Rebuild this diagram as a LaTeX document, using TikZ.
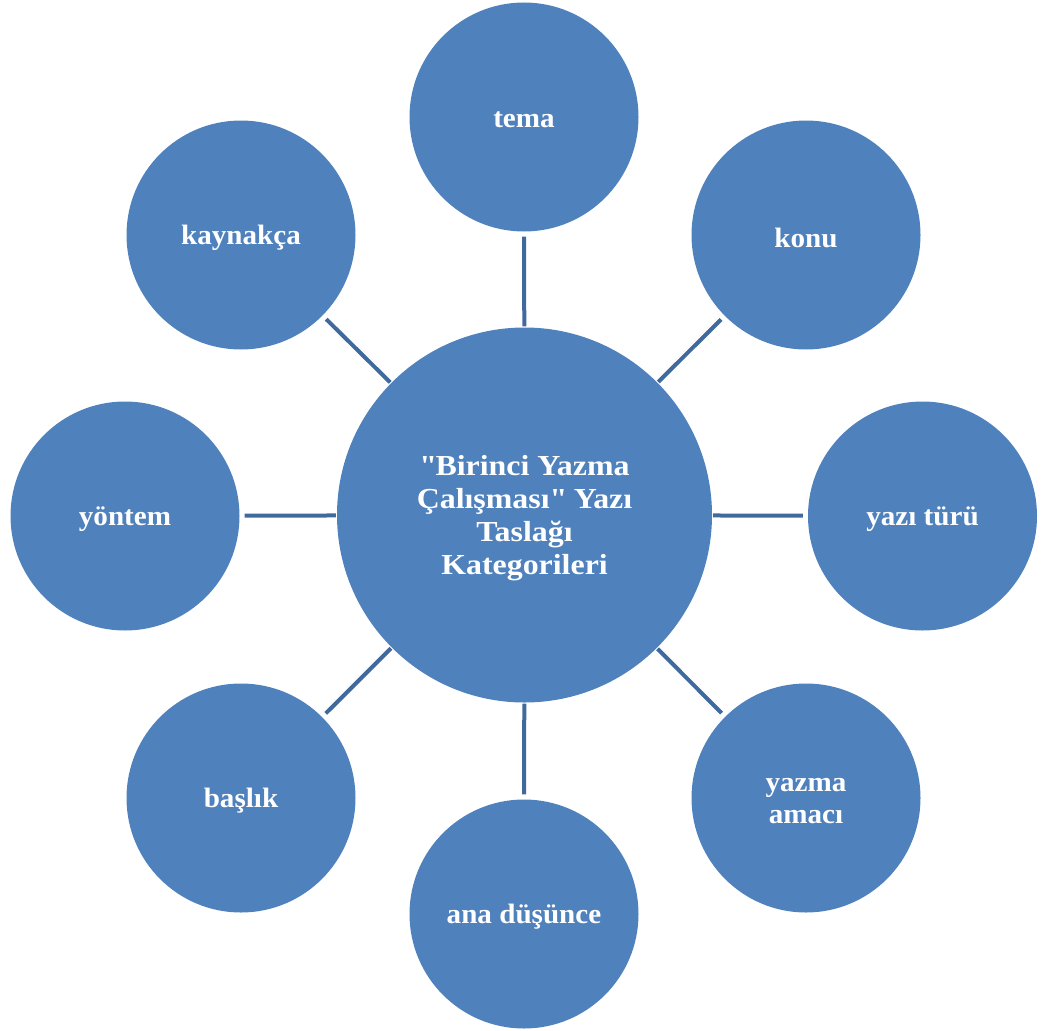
\documentclass[tikz,border=0pt]{standalone}
\usepackage{fontspec}
\setmainfont{Liberation Serif}
\newfontfamily\hubfont{Liberation Serif}[FakeStretch=1.1]
\newfontfamily\leaffont{Liberation Serif}[FakeStretch=1.04]
\definecolor{bubble}{HTML}{4F81BD}
\definecolor{spoke}{RGB}{64,106,157}
\begin{document}
\begin{tikzpicture}[x=1pt,y=-1pt,
  bubble/.style={circle,fill=bubble,draw=none,inner sep=0pt},
  caption/.style={text=white,align=center,inner sep=0pt,yshift=-3pt},
  hub/.style={bubble,minimum size=375pt,
    label={[caption,font=\hubfont\bfseries\fontsize{29}{33}\selectfont]center:#1}},
  leaf/.style={bubble,minimum size=229pt,
    label={[caption,font=\leaffont\bfseries\fontsize{28}{32}\selectfont]center:#1}},
  spokeline/.style={draw=spoke,line width=4pt,shorten >=5pt,shorten <=1pt}]
\useasboundingbox (0,0) rectangle (1048,1030);
% central category bubble
\node[hub={\textquotedbl Birinci Yazma\\Çalışması\textquotedbl{} Yazı\\Taslağı\\Kategorileri}] (c) at (524.5,515) {};
% surrounding bubbles
\node[leaf=tema]              (tema)   at (524,117)   {};
\node[leaf=konu]              (konu)   at (806,235)   {};
\node[leaf=yazı türü]         (tur)    at (922.5,516) {};
\node[leaf={yazma\\amacı}]    (amac)   at (806,798)   {};
\node[leaf=ana düşünce]       (fikir)  at (524,914)   {};
\node[leaf=başlık]            (baslik) at (241,798)   {};
\node[leaf=yöntem]            (yontem) at (125,516)   {};
\node[leaf=kaynakça]          (kaynak) at (241,235)   {};
% spokes
\foreach \n in {tema,konu,tur,amac,fikir,baslik,yontem,kaynak}
  \draw[spokeline] (c) -- (\n);
\end{tikzpicture}
\end{document}
